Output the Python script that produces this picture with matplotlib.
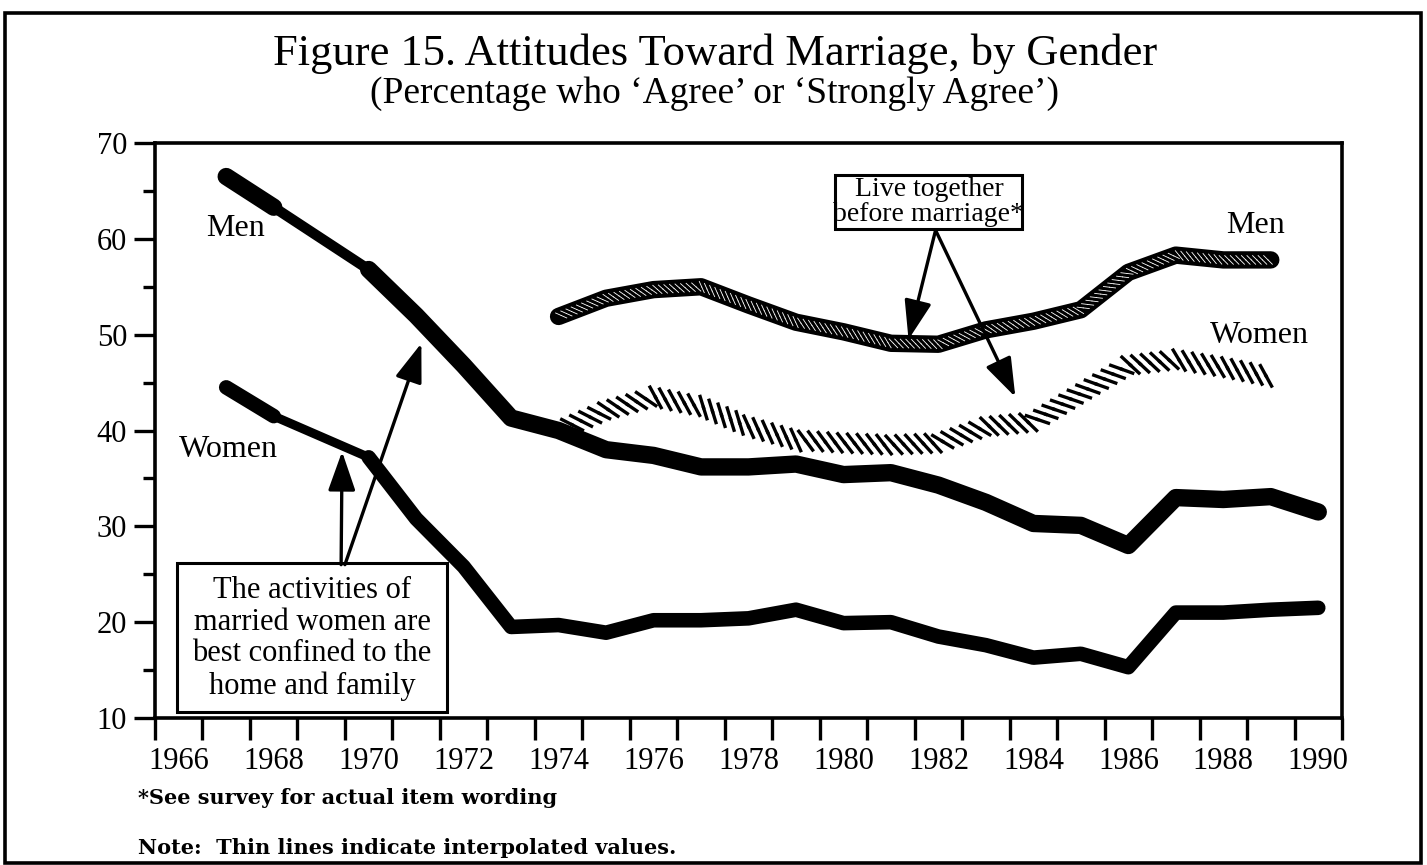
import numpy as np
import matplotlib
matplotlib.use("Agg")
import matplotlib.pyplot as plt
from matplotlib import patheffects as pe
from matplotlib.patches import Rectangle

# ---------------- data ----------------
years_act = list(range(1967, 1991))
# "The activities of married women are best confined to the home and family"
act_men = [66.5, 63.3, np.nan, 56.8, 52.0, 46.8, 41.3, 40.0, 38.0, 37.4, 36.2, 36.2,
           36.5, 35.4, 35.6, 34.3, 32.5, 30.3, 30.1, 28.0, 33.0, 32.8, 33.1, 31.5]
act_women = [44.5, 41.5, np.nan, 37.2, 30.8, 25.8, 19.5, 19.7, 18.9, 20.2, 20.2, 20.4,
             21.3, 19.9, 20.0, 18.5, 17.6, 16.3, 16.7, 15.3, 21.0, 21.0, 21.3, 21.5]

years_live = list(range(1974, 1990))
# "Live together before marriage"
live_men = [51.9, 53.8, 54.7, 55.0, 53.1, 51.3, 50.3, 49.1, 49.0, 50.5, 51.4, 52.6,
            56.5, 58.3, 57.8, 57.8]
live_women = [40.0, 42.1, 43.5, 42.5, 40.4, 39.0, 38.7, 38.5, 38.7, 40.4, 40.9, 43.9,
              46.8, 47.4, 46.6, 45.6]

x_tick_labels = [str(y) for y in range(1966, 1991, 2)]
y_ticks = [10, 20, 30, 40, 50, 60, 70]

title = "Figure 15. Attitudes Toward Marriage, by Gender"
subtitle = "(Percentage who \u2018Agree\u2019 or \u2018Strongly Agree\u2019)"

SERIF = ["Liberation Serif", "DejaVu Serif"]
plt.rcParams["font.family"] = SERIF

fig = plt.figure(figsize=(14.27, 8.65), dpi=100)
W, H = 1427, 865
ax = fig.add_axes([155 / W, 1 - 718 / H, (1342 - 155) / W, (718 - 143) / H])

ax.set_xlim(1965.5, 1990.5)
ax.set_ylim(10, 70)

# ---- activities series: thick for observed, thin for interpolated ----
def observed(ys):
    xs = [x for x, v in zip(years_act, ys) if not np.isnan(v)]
    vs = [v for v in ys if not np.isnan(v)]
    return xs, vs

xm, vm = observed(act_men)
ax.plot(xm, vm, color="black", lw=7.5, solid_capstyle="round", solid_joinstyle="round", zorder=3)
ax.plot(years_act, act_men, color="black", lw=12.5, solid_capstyle="round",
        solid_joinstyle="round", zorder=3)

xw, vw = observed(act_women)
ax.plot(xw, vw, color="black", lw=6.5, solid_capstyle="round", solid_joinstyle="round", zorder=3)
ax.plot(years_act, act_women, color="black", lw=10.5, solid_capstyle="round",
        solid_joinstyle="round", zorder=3)

# ---- live together: men = dark rope, women = striped ribbon ----
ax.plot(years_live, live_men, color="black", lw=12.5, solid_capstyle="round",
        solid_joinstyle="round", zorder=4)
ax.plot(years_live, live_men, color="none", lw=1, zorder=5,
        path_effects=[pe.TickedStroke(spacing=4.0, angle=135, length=1.1, linewidth=0.6,
                                      foreground="white"),
                      pe.TickedStroke(spacing=4.0, angle=-45, length=1.1, linewidth=0.6,
                                      foreground="white")])

ax.plot(years_live, live_women, color="none", lw=1, zorder=4,
        path_effects=[pe.TickedStroke(spacing=7, angle=130, length=1.2, linewidth=2.4,
                                      foreground="black"),
                      pe.TickedStroke(spacing=7, angle=-50, length=1.2, linewidth=2.4,
                                      foreground="black")])

# ---- axes styling ----
for s in ax.spines.values():
    s.set_linewidth(2.6)
ax.set_xticks(np.arange(1965.5, 1991, 1.0))
ax.set_xticklabels([])
ax.set_xticks(range(1966, 1991, 2), minor=True)
ax.set_xticklabels(x_tick_labels, minor=True)
ax.tick_params(axis="x", which="major", direction="out", length=16, width=2.4)
ax.tick_params(axis="x", which="minor", length=0, pad=21, labelsize=22)

ax.set_yticks(y_ticks)
ax.set_yticklabels([str(v) for v in y_ticks])
ax.set_yticks(range(15, 70, 10), minor=True)
ax.tick_params(axis="y", which="major", direction="out", length=15, width=2.4,
               pad=5, labelsize=22)
ax.tick_params(axis="y", which="minor", direction="out", length=9, width=2.4)

# ---- series labels ----
lab_kw = dict(fontsize=23, ha="center", va="center", zorder=6)
ax.text(1967.19, 61.1, "Men", **lab_kw)
ax.text(1967.04, 38.0, "Women", **lab_kw)
ax.text(1988.68, 61.4, "Men", **lab_kw)
ax.text(1988.75, 49.9, "Women", **lab_kw)

arrow_kw = dict(arrowstyle="-|>,head_length=1.2,head_width=0.42", color="black", lw=2.4,
                shrinkA=0, shrinkB=0, mutation_scale=20)

# box 1: activities
ax.add_patch(Rectangle((1965.96, 10.6), 1971.65 - 1965.96, 26.2 - 10.6, fc="white",
                       ec="black", lw=2.2, zorder=7))
ax.text(1968.81, 18.3,
        "The activities of\nmarried women are\nbest confined to the\nhome and family",
        fontsize=22, ha="center", va="center", linespacing=1.12, zorder=8)
ax.annotate("", xy=(1969.44, 37.8), xytext=(1969.42, 26.0), arrowprops=arrow_kw, zorder=8)
ax.annotate("", xy=(1971.11, 49.1), xytext=(1969.50, 26.0), arrowprops=arrow_kw, zorder=8)

# box 2: live together
ax.add_patch(Rectangle((1979.83, 61.0), 1983.77 - 1979.83, 66.7 - 61.0, fc="white",
                       ec="black", lw=2.2, zorder=7))
ax.text(1981.8, 63.8, "Live together\nbefore marriage*", fontsize=20, ha="center",
        va="center", linespacing=1.0, zorder=8)
ax.annotate("", xy=(1981.37, 49.5), xytext=(1981.94, 60.9), arrowprops=arrow_kw, zorder=8)
ax.annotate("", xy=(1983.62, 43.5), xytext=(1981.94, 60.9), arrowprops=arrow_kw, zorder=8)

# ---- titles / notes ----
fig.text(0.501, 1 - 54 / H, title, fontsize=32, ha="center", va="center")
fig.text(0.501, 1 - 94 / H, subtitle, fontsize=27, ha="center", va="center")
fig.text(138 / W, 1 - 798 / H, "*See survey for actual item wording", fontsize=15,
         family=["DejaVu Serif"], weight="bold", ha="left", va="center")
fig.text(138 / W, 1 - 848 / H, "Note:  Thin lines indicate interpolated values.",
         fontsize=15, family=["DejaVu Serif"], weight="bold", ha="left", va="center")

# outer frame
fig.add_artist(Rectangle((5 / W, 2 / H), (1421 - 5) / W, (852 - 2) / H,
                         transform=fig.transFigure, fill=False, ec="black", lw=2.6))

fig.savefig("out.png", dpi=100)
